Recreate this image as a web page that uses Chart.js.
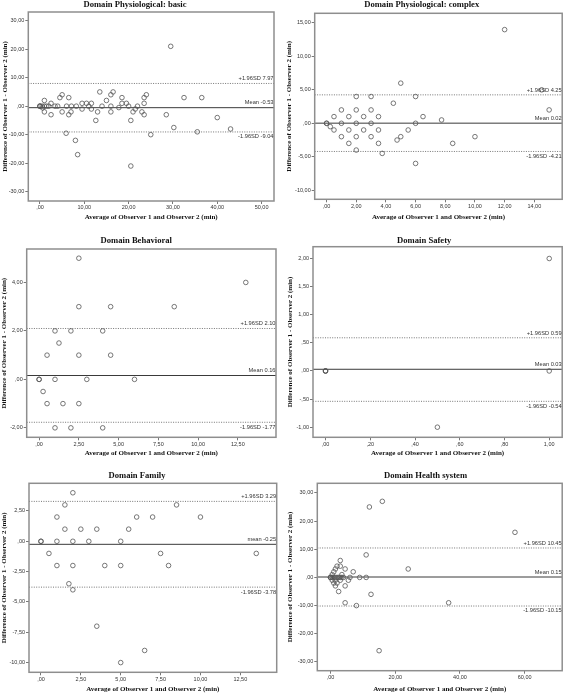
<!DOCTYPE html>
<html>
<head>
<meta charset="utf-8">
<script src="https://cdn.jsdelivr.net/npm/chart.js@4.4.1/dist/chart.umd.min.js"></script>
<style>
  html, body { margin: 0; padding: 0; background: #fff; }
  body { position: relative; width: 567px; height: 694px; overflow: hidden; }
  canvas { position: absolute; }
</style>
</head>
<body>
<canvas id="c1" width="283" height="230" style="left:0;top:0"></canvas>
<canvas id="c2" width="284" height="230" style="left:283px;top:0"></canvas>
<canvas id="c3" width="283" height="230" style="left:0;top:230px"></canvas>
<canvas id="c4" width="284" height="230" style="left:283px;top:230px"></canvas>
<canvas id="c5" width="283" height="234" style="left:0;top:460px"></canvas>
<canvas id="c6" width="284" height="234" style="left:283px;top:460px"></canvas>
<script>
// Domain Physiological: basic
const basicX = [0,0,0,0.5,0.6,1,1,1,1.5,2,2.5,2.5,3.4,4,4.5,5,5,5.9,6,6.5,6.5,7,7.1,8,8.2,8.5,9.5,9.5,10.5,11,11.6,11.6,12.6,13,13.5,14,15,16,16,16,16.5,17.8,18.5,18.5,19.5,20,20.5,20.5,21,21.5,22,23,23.5,23.5,23.5,24,25,28.5,29.5,30.2,32.5,35.5,36.5,40,43];
const basicY = [0,0,0,0,-0.6,2,-2,0,0,0,1,-3,0,0,3,4,-2,-9.5,0,3,-3,-2,0,-12,0,-17,1,-1,1,0,1,-1,-5,-2,5,0,2,4,0,-2,5,-0.5,3,1,1,0,-5,-21,-2,-1,0,-2,3,1,-3,4,-10,-3,21,-7.5,3,-9,3,-4,-8];
const basicLimits = [7.97, -0.53, -9.04];   // +1.96SD, mean, -1.96SD
const basicXTicks = [0,10,20,30,40,50];
const basicYTicks = [-30,-20,-10,0,10,20,30];
const basicXRange = [-2.63, 52.8];
const basicYRange = [-33.27, 33.04];

// Domain Physiological: complex
const complexX = [0,0,0.25,0.5,0.5,1,1,1,1.5,1.5,1.5,2,2,2,2,2,2.5,2.5,3,3,3,3,3.5,3.5,3.5,3.75,4.5,4.75,5,5,5.5,6,6,6,6.5,7.75,8.5,10,12,14.5,15];
const complexY = [0,0,-0.5,1,-1,2,0,-2,1,-1,-3,4,2,0,-2,-4,1,-1,4,2,0,-2,1,-1,-3,-4.5,3,-2.5,6,-2,-1,4,0,-6,1,0.5,-3,-2,14,5,2];
const complexLimits = [4.25, 0.02, -4.21];
const complexXTicks = [0,2,4,6,8,10,12,14];
const complexYTicks = [-10,-5,0,5,10,15];
const complexXRange = [-0.8, 15.88];
const complexYRange = [-11.36, 16.44];

// Domain Behavioral
const behavX = [0,0,0.25,0.5,0.5,1,1,1,1.25,1.5,2,2,2.5,2.5,2.5,2.5,3,4,4,4.5,4.5,6,8.5,13];
const behavY = [0,0,-0.5,1,-1,2,0,-2,1.5,-1,2,-2,5,3,1,-1,0,2,-2,3,1,0,3,4];
const behavLimits = [2.10, 0.16, -1.77];
const behavXTicks = [0,2.5,5,7.5,10,12.5];
const behavYTicks = [-2,0,2,4];
const behavXRange = [-0.78, 14.9];
const behavYRange = [-2.39, 5.38];

// Domain Safety
const safetyX = [0,0,0,0.5,1,1];
const safetyY = [0,0,0,-1,2,0];
const safetyLimits = [0.59, 0.03, -0.54];
const safetyXTicks = [0,0.2,0.4,0.6,0.8,1];
const safetyYTicks = [-1,-0.5,0,0.5,1,1.5,2];
const safetyXRange = [-0.056, 1.058];
const safetyYRange = [-1.18, 2.21];

// Domain Family
const familyX = [0,0,0.5,1,1,1,1.5,1.5,1.75,2,2,2,2,2.5,3,3.5,3.5,4,5,5,5,5.5,6,6.5,7,7.5,8,8.5,10,13.5];
const familyY = [0,0,-1,2,0,-2,3,1,-3.5,4,0,-2,-4,1,0,1,-7,-2,0,-2,-10,1,2,-9,2,-1,-2,3,2,-1];
const familyLimits = [3.29, -0.25, -3.78];
const familyXTicks = [0,2.5,5,7.5,10,12.5];
const familyYTicks = [-10,-7.5,-5,-2.5,0,2.5];
const familyXRange = [-0.75, 14.78];
const familyYRange = [-10.8, 4.78];

// Domain Health system
const healthX = [0,0,0,0.5,0.5,0.5,1,1,1,1.5,1.5,1.5,1.5,2,2,2,2.5,2.5,3,3,3,3,3.5,3.5,4,4.5,4.5,4.5,5.5,6,7,8,9,11,11,12,12.5,15,16,24,36.5,57];
const healthY = [0,0,0,0,1,-1,0,2,-2,0,3,-1,-3,0,4,-2,0,-5,0,6,4,-1,0,1,0,3,-3,-9,-1,0,2,-10,0,8,0,25,-6,-26,27,3,-9,16];
const healthLimits = [10.45, 0.15, -10.15];
const healthXTicks = [0,20,40,60];
const healthYTicks = [-30,-20,-10,0,10,20,30];
const healthXRange = [-4.1, 71.6];
const healthYRange = [-33.1, 33.4];

const yTitle = 'Difference of Observer 1 - Observer 2 (min)';
const xTitle = 'Average of Observer 1 and Observer 2 (min)';

// panel placement on the page: canvas box, plot frame, title spots
const panels = [
  { id: 'c1', title: 'Domain Physiological: basic', x: basicX, y: basicY, lim: basicLimits, meanWord: 'Mean',
    xt: basicXTicks, yt: basicYTicks, xr: basicXRange, yr: basicYRange,
    box: [0, 0, 283, 230], area: [28.3, 12, 274, 201], tpos: [135, 4.3], yTitleX: 5, xTitleY: 216.7 },
  { id: 'c2', title: 'Domain Physiological: complex', x: complexX, y: complexY, lim: complexLimits, meanWord: 'Mean',
    xt: complexXTicks, yt: complexYTicks, xr: complexXRange, yr: complexYRange,
    box: [283, 0, 284, 230], area: [314.7, 13.3, 563.7, 199.3], tpos: [421.7, 5], yTitleX: 289.5, xTitleY: 216.7 },
  { id: 'c3', title: 'Domain Behavioral', x: behavX, y: behavY, lim: behavLimits, meanWord: 'Mean',
    xt: behavXTicks, yt: behavYTicks, xr: behavXRange, yr: behavYRange,
    box: [0, 230, 283, 230], area: [26.7, 249, 276, 437.3], tpos: [136.3, 241], yTitleX: 3.8, xTitleY: 452.7 },
  { id: 'c4', title: 'Domain Safety', x: safetyX, y: safetyY, lim: safetyLimits, meanWord: 'Mean',
    xt: safetyXTicks, yt: safetyYTicks, xr: safetyXRange, yr: safetyYRange,
    box: [283, 230, 284, 230], area: [313, 246.7, 563.7, 437.3], tpos: [424.2, 241], yTitleX: 290.5, xTitleY: 452.7 },
  { id: 'c5', title: 'Domain Family', x: familyX, y: familyY, lim: familyLimits, meanWord: 'mean',
    xt: familyXTicks, yt: familyYTicks, xr: familyXRange, yr: familyYRange,
    box: [0, 460, 283, 234], area: [29, 483.3, 276.7, 672.3], tpos: [137, 475.7], yTitleX: 3.8, xTitleY: 689.5 },
  { id: 'c6', title: 'Domain Health system', x: healthX, y: healthY, lim: healthLimits, meanWord: 'Mean',
    xt: healthXTicks, yt: healthYTicks, xr: healthXRange, yr: healthYRange,
    box: [283, 460, 284, 234], area: [317.3, 483.3, 563, 670.7], tpos: [425.5, 476], yTitleX: 290.5, xTitleY: 689.5 }
];

const fmt = v => {
  const s = Math.abs(v).toFixed(2).replace('.', ',');
  return (v < 0 ? '-' : '') + (s.startsWith('0,') ? s.slice(1) : s);
};

const tickFont = { family: '"Liberation Sans", Arial, sans-serif', size: 5.5 };
const axisFont = { family: '"Liberation Serif", "Times New Roman", serif', size: 7, weight: 'bold', lineHeight: 1.2 };
const half = 4.2;

function makeDecor(p) {
  return {
    id: 'decor',
    afterDatasetsDraw(chart) {
      const { ctx, chartArea: a, scales } = chart;
      ctx.save();
      ctx.strokeStyle = '#8e8e8e';
      ctx.lineWidth = 1.5;
      ctx.strokeRect(a.left, a.top, a.right - a.left, a.bottom - a.top);
      const labels = [
        { v: p.lim[0], t: '+1.96SD ' + p.lim[0].toFixed(2), dy: -4.8 },
        { v: p.lim[1], t: p.meanWord + ' ' + p.lim[1].toFixed(2), dy: -4.8 },
        { v: p.lim[2], t: '-1.96SD ' + p.lim[2].toFixed(2), dy: 4.8 }
      ];
      ctx.font = '5.7px "Liberation Sans", Arial, sans-serif';
      ctx.fillStyle = '#333';
      ctx.textAlign = 'right';
      ctx.textBaseline = 'middle';
      labels.forEach(l => ctx.fillText(l.t, a.right - 0.5, scales.y.getPixelForValue(l.v) + l.dy));
      ctx.font = 'bold 8.6px "Liberation Serif", "Times New Roman", serif';
      ctx.fillStyle = '#111';
      ctx.textAlign = 'center';
      ctx.fillText(p.title, p.tpos[0] - p.box[0], p.tpos[1] - p.box[1]);
      ctx.restore();
    }
  };
}

const limitLine = (p, v, dashed) => ({
  data: [{ x: p.xr[0], y: v }, { x: p.xr[1], y: v }],
  showLine: true,
  pointRadius: 0,
  borderColor: dashed ? '#666' : '#3a3a3a',
  borderWidth: dashed ? 0.9 : 1,
  borderDash: dashed ? [1, 1.4] : [],
  order: 2
});

panels.forEach(p => {
  const [cx, cy, cw, ch] = p.box;
  const [l, t, r, b] = p.area;
  const padLeft = Math.max(0, p.yTitleX - half - cx);
  const padBottom = Math.max(0, cy + ch - (p.xTitleY + half));
  const yWidth = l - cx - padLeft;
  const xHeight = cy + ch - padBottom - b;

  new Chart(document.getElementById(p.id).getContext('2d'), {
    type: 'scatter',
    data: {
      datasets: [
        {
          data: p.x.map((x, i) => ({ x, y: p.y[i] })),
          pointStyle: 'circle',
          pointRadius: 2.3,
          pointBorderWidth: 0.8,
          pointBorderColor: '#555',
          pointBackgroundColor: 'rgba(0,0,0,0)',
          order: 1
        },
        limitLine(p, p.lim[0], true),
        limitLine(p, p.lim[1], false),
        limitLine(p, p.lim[2], true)
      ]
    },
    options: {
      responsive: false,
      animation: false,
      events: [],
      layout: { padding: { left: padLeft, top: t - cy, right: cx + cw - r, bottom: padBottom } },
      plugins: { legend: { display: false }, tooltip: { enabled: false } },
      scales: {
        x: {
          type: 'linear',
          min: p.xr[0], max: p.xr[1],
          afterBuildTicks: s => { s.ticks = p.xt.map(v => ({ value: v })); },
          afterFit: s => { s.height = xHeight; },
          grid: { drawOnChartArea: false, drawTicks: true, tickLength: 3, color: '#555', lineWidth: 0.8 },
          border: { display: false },
          ticks: { font: tickFont, color: '#333', padding: 0.5, maxRotation: 0, autoSkip: false, callback: v => fmt(v) },
          title: { display: true, text: xTitle, font: axisFont, color: '#111', padding: { top: 0, bottom: 0 } }
        },
        y: {
          type: 'linear',
          min: p.yr[0], max: p.yr[1],
          afterBuildTicks: s => { s.ticks = p.yt.map(v => ({ value: v })); },
          afterFit: s => { s.width = yWidth; },
          grid: { drawOnChartArea: false, drawTicks: true, tickLength: 3, color: '#555', lineWidth: 0.8 },
          border: { display: false },
          ticks: { font: tickFont, color: '#333', padding: 1, autoSkip: false, callback: v => fmt(v) },
          title: { display: true, text: yTitle, font: axisFont, color: '#111', padding: { top: 0, bottom: 0 } }
        }
      }
    },
    plugins: [makeDecor(p)]
  });
});
</script>
</body>
</html>
